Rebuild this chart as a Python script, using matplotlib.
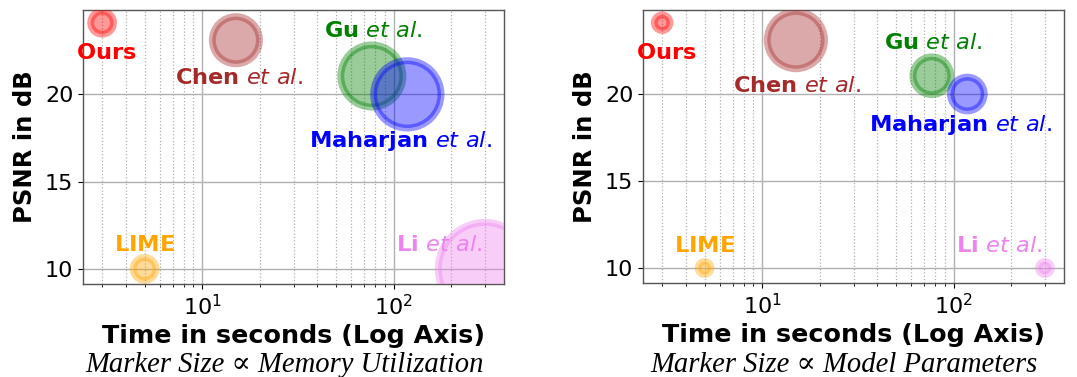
import matplotlib
matplotlib.use("Agg")
import matplotlib.pyplot as plt

# ---------------- Data ----------------
methods = ["Ours", "Chen", "Gu", "Maharjan", "LIME", "Li"]
time_s = [3, 15, 77, 118, 5, 300]
psnr = [24.1, 23.1, 21.05, 20.0, 10.0, 10.0]
colors = ["red", "brown", "green", "blue", "orange", "violet"]

# marker sizes (points^2)
size_memory = [270, 1150, 2000, 2350, 270, 4500]
size_params = [125, 1700, 740, 590, 85, 85]

labels = [
    r"$\mathbf{Ours}$",
    r"$\mathbf{Chen}\ \mathit{et\ al.}$",
    r"$\mathbf{Gu}\ \mathit{et\ al.}$",
    r"$\mathbf{Maharjan}\ \mathit{et\ al.}$",
    r"$\mathbf{LIME}$",
    r"$\mathbf{Li}\ \mathit{et\ al.}$",
]

# label anchor positions (data coords), per panel
label_xy_memory = [(3.17, 22.0), (15.5, 20.6), (78, 23.3), (108.6, 17.0), (5.0, 11.04), (172, 11.04)]
label_xy_params = [(3.17, 22.04), (15.2, 20.09), (78, 22.58), (108.6, 17.86), (5.0, 10.9), (172, 10.9)]

captions = ["Marker Size \u221d Memory Utilization", "Marker Size \u221d Model Parameters"]
caption_x = [285, 844]

fig = plt.figure(figsize=(10.77, 3.77), dpi=100)
axes = [
    fig.add_axes([83 / 1077, 93 / 377, 421 / 1077, 274 / 377]),
    fig.add_axes([643 / 1077, 94 / 377, 421 / 1077, 273 / 377]),
]

panels = [(size_memory, label_xy_memory), (size_params, label_xy_params)]

for ax, (sizes, label_xy) in zip(axes, panels):
    ax.scatter(time_s, psnr, s=sizes, c=colors, alpha=0.4, linewidths=5.0,
               edgecolors=colors, zorder=3)
    ax.set_xscale("log")
    ax.set_ylim(9.14, 24.83)
    ax.set_yticks([10, 15, 20])
    ax.grid(True, which="major", color="#b0b0b0", linewidth=1.0, zorder=0)
    ax.grid(True, which="minor", axis="x", color="#b0b0b0", linestyle=":",
            linewidth=0.9, zorder=0)
    ax.tick_params(labelsize=16)
    for sp in ax.spines.values():
        sp.set_color("#555555")
        sp.set_linewidth(1.0)

    for lab, (lx, ly), col in zip(labels, label_xy, colors):
        ax.text(lx, ly, lab, color=col, fontsize=16.2, ha="center",
                va="baseline", zorder=4)

    ax.set_xlabel("Time in seconds (Log Axis)", fontsize=18.3, fontweight="bold",
                  labelpad=4)
    ax.set_ylabel("PSNR in dB", fontsize=17.5, fontweight="bold", labelpad=6)

for cap, cx in zip(captions, caption_x):
    fig.text(cx / 1077, 5 / 377, cap,
             family=["Liberation Serif", "DejaVu Serif"], style="italic",
             fontsize=20.6, ha="center", va="baseline")

fig.savefig("out.png", dpi=100)
